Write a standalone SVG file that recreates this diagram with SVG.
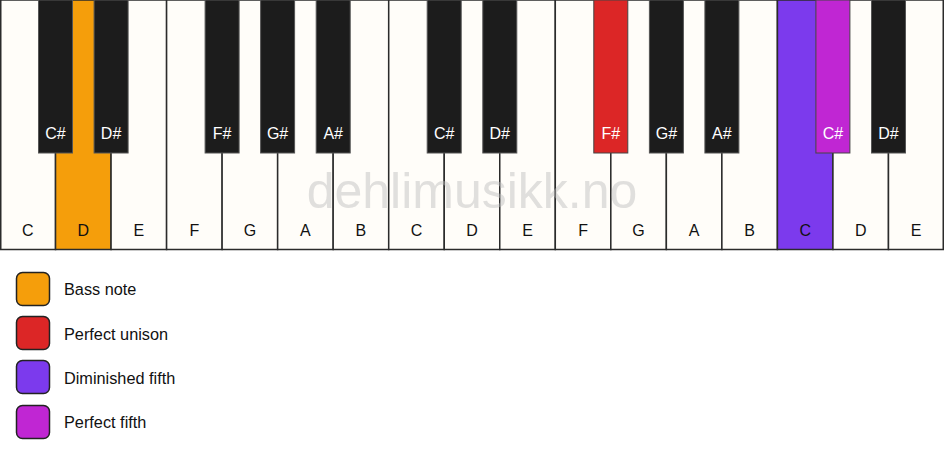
<svg xmlns="http://www.w3.org/2000/svg" width="944" height="461" viewBox="0 0 944 461">
<style>
.w{fill:#fffdf9;stroke:#2b2b2b;stroke-width:1.5}
.b{fill:#1c1c1c;stroke:#555;stroke-width:1}
.wl{font-family:"Liberation Sans",Arial,sans-serif;font-size:16px;fill:#111;text-anchor:middle}
.bl{font-family:"Liberation Sans",Arial,sans-serif;font-size:16px;fill:#fff;text-anchor:middle}
.lg{font-family:"Liberation Sans",Arial,sans-serif;font-size:16.3px;fill:#111}
.sw{stroke:#222;stroke-width:1.5}
</style>
<rect x="0" y="0" width="944" height="461" fill="#ffffff"/>
<g id="white-keys">
<g id="w0"><rect class="w" x="0.75" y="0" width="54.78" height="249.5"/><text class="wl" x="27.8" y="236">C</text></g>
<g id="w1"><rect class="w" x="55.53" y="0" width="55.53" height="249.5" style="fill:#f59e0b"/><text class="wl" x="83.3" y="236">D</text></g>
<g id="w2"><rect class="w" x="111.06" y="0" width="55.53" height="249.5"/><text class="wl" x="138.8" y="236">E</text></g>
<g id="w3"><rect class="w" x="166.59" y="0" width="55.53" height="249.5"/><text class="wl" x="194.4" y="236">F</text></g>
<g id="w4"><rect class="w" x="222.12" y="0" width="55.53" height="249.5"/><text class="wl" x="249.9" y="236">G</text></g>
<g id="w5"><rect class="w" x="277.65" y="0" width="55.53" height="249.5"/><text class="wl" x="305.4" y="236">A</text></g>
<g id="w6"><rect class="w" x="333.18" y="0" width="55.53" height="249.5"/><text class="wl" x="360.9" y="236">B</text></g>
<g id="w7"><rect class="w" x="388.71" y="0" width="55.53" height="249.5"/><text class="wl" x="416.5" y="236">C</text></g>
<g id="w8"><rect class="w" x="444.24" y="0" width="55.53" height="249.5"/><text class="wl" x="472.0" y="236">D</text></g>
<g id="w9"><rect class="w" x="499.76" y="0" width="55.53" height="249.5"/><text class="wl" x="527.5" y="236">E</text></g>
<g id="w10"><rect class="w" x="555.29" y="0" width="55.53" height="249.5"/><text class="wl" x="583.1" y="236">F</text></g>
<g id="w11"><rect class="w" x="610.82" y="0" width="55.53" height="249.5"/><text class="wl" x="638.6" y="236">G</text></g>
<g id="w12"><rect class="w" x="666.35" y="0" width="55.53" height="249.5"/><text class="wl" x="694.1" y="236">A</text></g>
<g id="w13"><rect class="w" x="721.88" y="0" width="55.53" height="249.5"/><text class="wl" x="749.6" y="236">B</text></g>
<g id="w14"><rect class="w" x="777.41" y="0" width="55.53" height="249.5" style="fill:#7c3aed"/><text class="wl" x="805.2" y="236">C</text></g>
<g id="w15"><rect class="w" x="832.94" y="0" width="55.53" height="249.5"/><text class="wl" x="860.7" y="236">D</text></g>
<g id="w16"><rect class="w" x="888.47" y="0" width="54.78" height="249.5"/><text class="wl" x="916.2" y="236">E</text></g>
</g>
<text x="472" y="208" font-family="Liberation Sans,Arial,sans-serif" font-size="50" fill="#bbbbbb" fill-opacity="0.45" text-anchor="middle">dehlimusikk.no</text>
<g id="black-keys">
<g id="b1"><rect class="b" x="38.5" y="0" width="34" height="153"/><text class="bl" x="55.5" y="139">C#</text></g>
<g id="b2"><rect class="b" x="94.1" y="0" width="34" height="153"/><text class="bl" x="111.1" y="139">D#</text></g>
<g id="b4"><rect class="b" x="205.1" y="0" width="34" height="153"/><text class="bl" x="222.1" y="139">F#</text></g>
<g id="b5"><rect class="b" x="260.6" y="0" width="34" height="153"/><text class="bl" x="277.6" y="139">G#</text></g>
<g id="b6"><rect class="b" x="316.2" y="0" width="34" height="153"/><text class="bl" x="333.2" y="139">A#</text></g>
<g id="b8"><rect class="b" x="427.2" y="0" width="34" height="153"/><text class="bl" x="444.2" y="139">C#</text></g>
<g id="b9"><rect class="b" x="482.8" y="0" width="34" height="153"/><text class="bl" x="499.8" y="139">D#</text></g>
<g id="b11"><rect class="b" x="593.8" y="0" width="34" height="153" style="fill:#dc2626;stroke:#444"/><text class="bl" x="610.8" y="139">F#</text></g>
<g id="b12"><rect class="b" x="649.4" y="0" width="34" height="153"/><text class="bl" x="666.4" y="139">G#</text></g>
<g id="b13"><rect class="b" x="704.9" y="0" width="34" height="153"/><text class="bl" x="721.9" y="139">A#</text></g>
<g id="b15"><rect class="b" x="815.9" y="0" width="34" height="153" style="fill:#c026d3;stroke:#444"/><text class="bl" x="832.9" y="139">C#</text></g>
<g id="b16"><rect class="b" x="871.5" y="0" width="34" height="153"/><text class="bl" x="888.5" y="139">D#</text></g>
</g>
<g id="connectors"></g>
<g id="legend">
<g id="lg-bass"><rect class="sw" x="16.5" y="272.5" width="33" height="33" rx="6" fill="#f59e0b"/><text class="lg" x="64" y="295">Bass note</text></g>
<g id="lg-unison"><rect class="sw" x="16.5" y="316.5" width="33" height="33" rx="6" fill="#dc2626"/><text class="lg" x="64" y="340">Perfect unison</text></g>
<g id="lg-dim5"><rect class="sw" x="16.5" y="360.5" width="33" height="33" rx="6" fill="#7c3aed"/><text class="lg" x="64" y="384">Diminished fifth</text></g>
<g id="lg-p5"><rect class="sw" x="16.5" y="405.5" width="33" height="33" rx="6" fill="#c026d3"/><text class="lg" x="64" y="428">Perfect fifth</text></g>
</g>
</svg>
